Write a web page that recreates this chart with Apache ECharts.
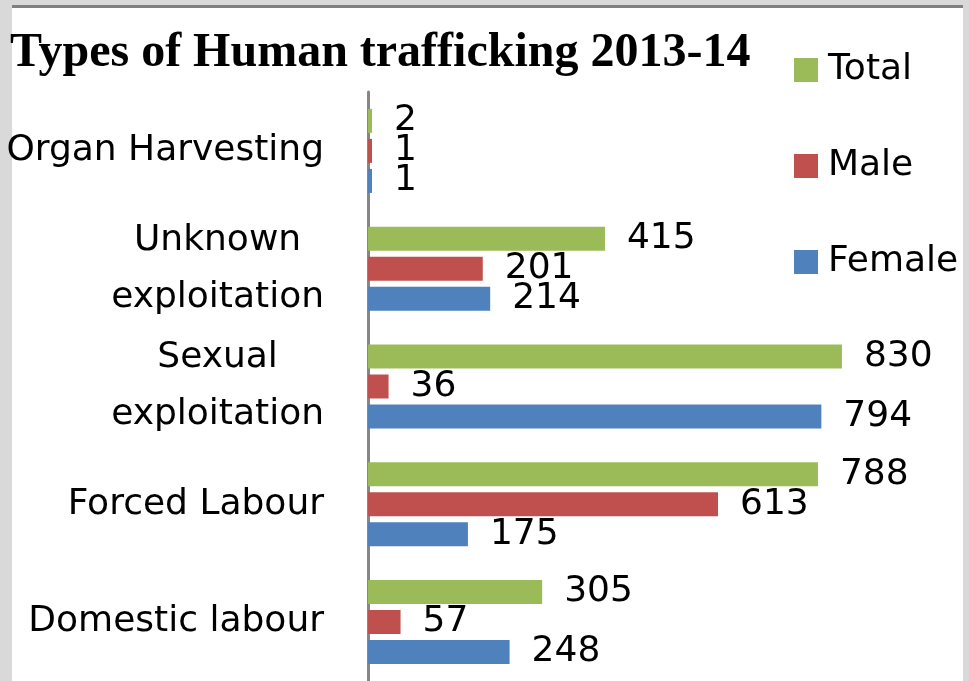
<!DOCTYPE html>
<html>
<head>
<meta charset="utf-8">
<script src="https://cdn.jsdelivr.net/npm/echarts@6/dist/echarts.min.js"></script>
<style>
html,body{margin:0;padding:0;background:#d9d9d9;overflow:hidden;}
#chart{width:969px;height:681px;}
</style>
</head>
<body>
<div id="chart"></div>
<script>
const titleText = 'Types of Human trafficking 2013-14';
const categories = ['Domestic labour', 'Forced Labour', 'Sexual\nexploitation', 'Unknown\nexploitation', 'Organ Harvesting'];
const seriesNames = ['Total', 'Male', 'Female'];
const totalValues = [305, 788, 830, 415, 2];
const maleValues = [57, 613, 36, 201, 1];
const femaleValues = [248, 175, 794, 214, 1];
const colors = ['#9BBB59', '#C0504D', '#4F81BD'];

const FONT = 'DejaVu Sans';
const chart = echarts.init(document.getElementById('chart'), null, {renderer: 'canvas'});

function makeSeries(name, data, color) {
  return {
    name: name,
    type: 'bar',
    data: data,
    barWidth: 24,
    barGap: '25%',
    barMinHeight: 4,
    itemStyle: {color: color},
    label: {
      show: true,
      position: 'right',
      distance: 22,
      fontFamily: FONT,
      fontSize: 36,
      color: '#000'
    }
  };
}

chart.setOption({
  backgroundColor: '#d9d9d9',
  animation: false,
  graphic: [
    {type: 'rect', z: -10, silent: true, shape: {x: 12, y: 8, width: 951, height: 700}, style: {fill: '#ffffff'}},
    {type: 'rect', z: -10, silent: true, shape: {x: 12, y: 5, width: 951, height: 3}, style: {fill: '#808080'}}
  ],
  title: {
    text: titleText,
    left: 10,
    top: 30,
    padding: 0,
    textStyle: {fontFamily: 'Liberation Serif', fontWeight: 'bold', fontSize: 48, color: '#000'}
  },
  legend: {
    data: seriesNames,
    orient: 'vertical',
    left: 794,
    top: 52,
    padding: 0,
    itemWidth: 24,
    itemHeight: 24,
    itemGap: 60,
    icon: 'rect',
    textStyle: {fontFamily: FONT, fontSize: 36, lineHeight: 36, color: '#000', padding: [0, 0, 0, 5]}
  },
  grid: {left: 368, top: 92, width: 571, height: 598, containLabel: false},
  xAxis: {
    type: 'value',
    min: 0,
    max: 1000,
    show: false,
    splitLine: {show: false}
  },
  yAxis: {
    type: 'category',
    data: categories,
    offset: 1,
    axisLine: {show: true, lineStyle: {color: '#868686', width: 3}},
    axisTick: {show: false},
    axisLabel: {
      margin: 43,
      formatter: function (v) {
        return v.split('\n').map(function (s) { return '{c|' + s + '}'; }).join('\n');
      },
      rich: {
        c: {fontFamily: FONT, fontSize: 36, lineHeight: 57, color: '#000', align: 'center'}
      }
    }
  },
  series: [
    makeSeries('Total', totalValues, colors[0]),
    makeSeries('Male', maleValues, colors[1]),
    makeSeries('Female', femaleValues, colors[2])
  ]
});
</script>
</body>
</html>
